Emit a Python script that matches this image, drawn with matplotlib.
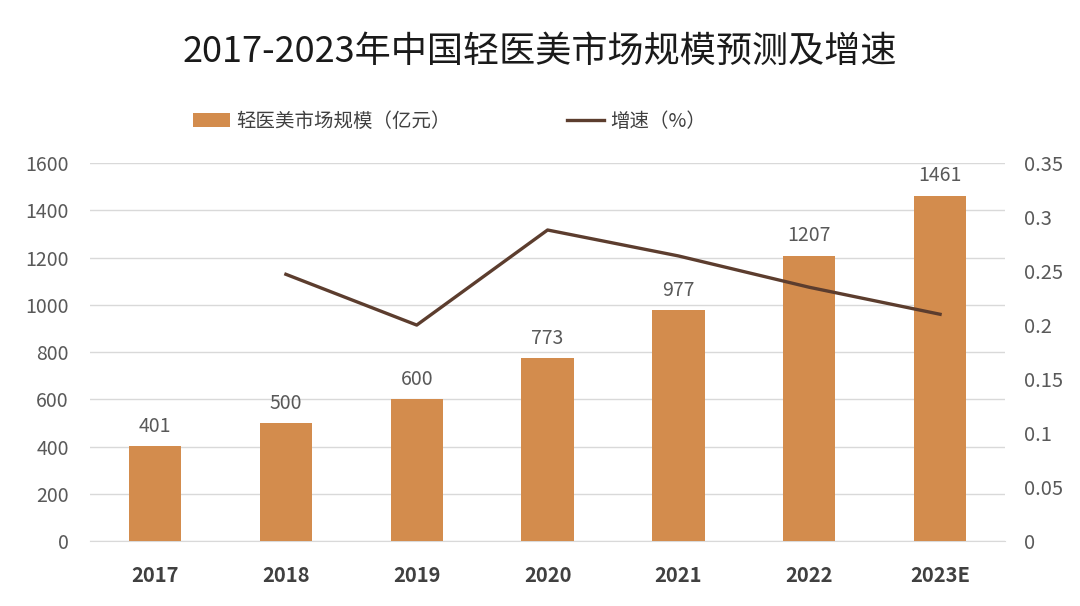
import matplotlib.pyplot as plt

plt.rcParams['font.family'] = ['Noto Sans CJK SC', 'DejaVu Sans']

years = ['2017', '2018', '2019', '2020', '2021', '2022', '2023E']
market_size = [401, 500, 600, 773, 977, 1207, 1461]
growth_years = ['2018', '2019', '2020', '2021', '2022', '2023E']
growth = [0.247, 0.200, 0.288, 0.264, 0.235, 0.210]

bar_color = '#D38C4D'
line_color = '#5C3D2E'
tick_color = '#595959'

fig = plt.figure(figsize=(10.8, 6.06), dpi=100)
ax = fig.add_axes([0.083, 0.107, 0.848, 0.624])
ax2 = ax.twinx()

x = list(range(len(years)))
bars = ax.bar(x, market_size, width=0.40, color=bar_color, zorder=3,
              label='轻医美市场规模（亿元）')
for xi, v in zip(x, market_size):
    ax.text(xi, v + 40, str(v), ha='center', va='bottom', fontsize=14, color=tick_color)

gx = [years.index(y) for y in growth_years]
line, = ax2.plot(gx, growth, color=line_color, lw=2.4, label='增速（%）', zorder=4)

ax.set_xlim(-0.5, len(years) - 0.5)
ax.set_ylim(0, 1600)
ax.set_yticks(range(0, 1601, 200))
ax2.set_ylim(0, 0.35)
ax2.set_yticks([0, 0.05, 0.1, 0.15, 0.2, 0.25, 0.3, 0.35])
ax2.set_yticklabels(['0', '0.05', '0.1', '0.15', '0.2', '0.25', '0.3', '0.35'])

ax.set_xticks(x)
ax.set_xticklabels(years, fontsize=14.5, fontweight='bold', color='#404040')
ax.tick_params(axis='x', length=0, pad=17)
ax.tick_params(axis='y', length=0, labelsize=14, labelcolor=tick_color, pad=15)
ax2.tick_params(axis='y', length=0, labelsize=14.5, labelcolor=tick_color, pad=13)

ax.grid(axis='y', color='#D9D9D9', lw=1, zorder=0)
for a in (ax, ax2):
    for s in a.spines.values():
        s.set_visible(False)
ax.spines['bottom'].set_visible(True)
ax.spines['bottom'].set_color('#D9D9D9')

fig.text(0.5, 0.915, '2017-2023年中国轻医美市场规模预测及增速', ha='center', va='center',
         fontsize=26, color='#1a1a1a')

fig.legend([bars, line], ['轻医美市场规模（亿元）', '增速（%）'], loc='center left',
           bbox_to_anchor=(0.179, 0.8), ncol=2, frameon=False, fontsize=14,
           columnspacing=6.0, handlelength=1.9, handletextpad=0.3,
           borderpad=0, borderaxespad=0, labelcolor='#404040')

fig.savefig('out.png', dpi=100, facecolor='white')
